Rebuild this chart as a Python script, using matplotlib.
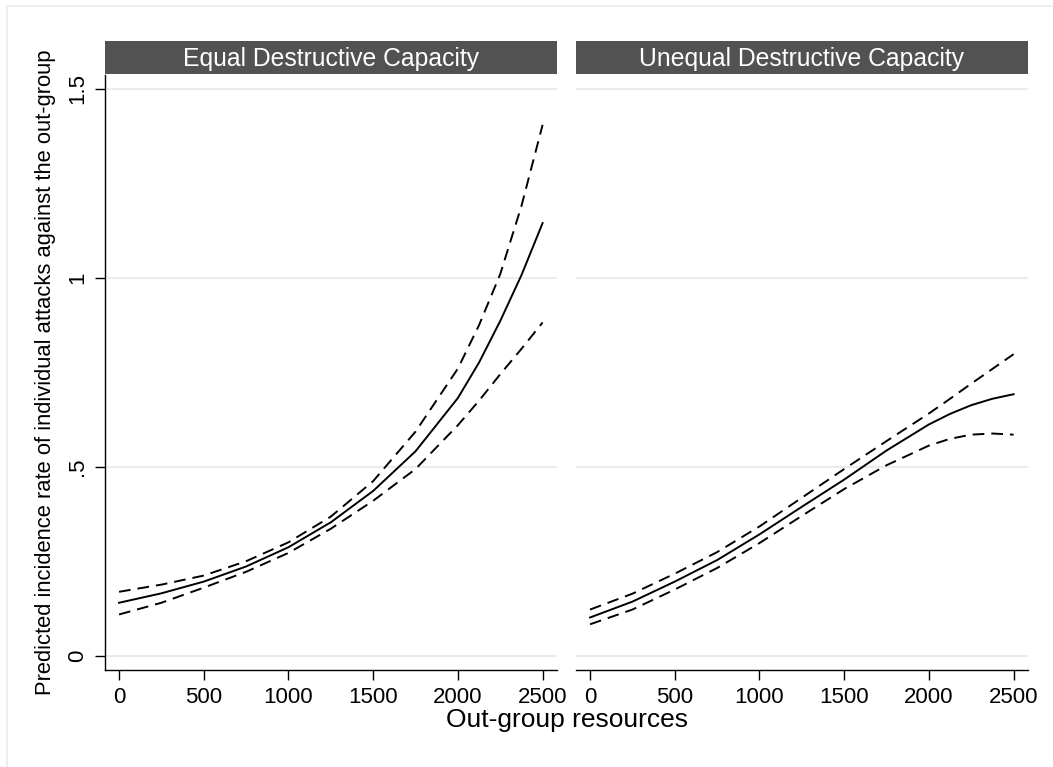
import matplotlib
matplotlib.use('Agg')
import matplotlib.pyplot as plt

plt.rcParams['font.family'] = ['Liberation Sans', 'DejaVu Sans']

# Out-group resources grid
resources = [0, 250, 500, 750, 1000, 1250, 1500, 1750, 2000, 2125, 2250, 2375, 2500]

# Equal destructive capacity: prediction and 95% bounds
eq_pred = [0.140, 0.165, 0.196, 0.236, 0.287, 0.353, 0.436, 0.541, 0.682, 0.776, 0.886, 1.007, 1.145]
eq_hi = [0.169, 0.188, 0.212, 0.250, 0.300, 0.368, 0.462, 0.593, 0.760, 0.875, 1.010, 1.190, 1.405]
eq_lo = [0.109, 0.140, 0.180, 0.222, 0.272, 0.336, 0.410, 0.494, 0.610, 0.675, 0.745, 0.812, 0.882]

# Unequal destructive capacity
uneq_pred = [0.101, 0.143, 0.196, 0.253, 0.321, 0.394, 0.466, 0.543, 0.612, 0.640, 0.663, 0.680, 0.692]
uneq_hi = [0.122, 0.164, 0.217, 0.274, 0.342, 0.418, 0.494, 0.568, 0.641, 0.680, 0.720, 0.759, 0.798]
uneq_lo = [0.083, 0.122, 0.175, 0.232, 0.298, 0.370, 0.441, 0.504, 0.556, 0.574, 0.585, 0.588, 0.585]

panels = ['Equal Destructive Capacity', 'Unequal Destructive Capacity']
series = [(eq_pred, eq_hi, eq_lo), (uneq_pred, uneq_hi, uneq_lo)]

xticks = [0, 500, 1000, 1500, 2000, 2500]
yticks = [0, 0.5, 1, 1.5]
ylabels = ['0', '.5', '1', '1.5']

W, H = 1053, 767
fig = plt.figure(figsize=(W/100, H/100), dpi=100)
fig.patch.set_facecolor('white')

# faint outer frame of the graph region
frame_col = '#e6eef0'
fig.add_artist(plt.Line2D([6.5/W, 6.5/W], [0, 1 - 5.5/H], color=frame_col, lw=1.2))
fig.add_artist(plt.Line2D([6.5/W, 1], [1 - 5.5/H, 1 - 5.5/H], color=frame_col, lw=1.2))

lefts = [105, 576]
axw = 452
top, bottom = 75, 670
dash = (0, (6, 3.6))
lw = 1.4

for i, (name, (pred, hi, lo)) in enumerate(zip(panels, series)):
    ax = fig.add_axes([lefts[i]/W, 1 - bottom/H, axw/W, (bottom - top)/H])
    ax.set_facecolor('white')
    for yv in yticks:
        ax.axhline(yv, color='#e8eef0', lw=1.5, zorder=0)
    ax.plot(resources, pred, color='black', lw=lw)
    ax.plot(resources, hi, color='black', lw=lw, linestyle=dash)
    ax.plot(resources, lo, color='black', lw=lw, linestyle=dash)
    ax.set_xlim(-83, 2585)
    ax.set_ylim(-0.038, 1.537)
    ax.set_xticks(xticks)
    ax.set_xticklabels([str(v) for v in xticks])
    ax.tick_params(axis='x', direction='out', length=7, width=1, labelsize=16, pad=5)
    for s in ['top', 'right']:
        ax.spines[s].set_visible(False)
    ax.spines['bottom'].set_linewidth(1)
    if i == 0:
        ax.set_yticks(yticks)
        ax.set_yticklabels(ylabels, rotation=90, va='center')
        ax.tick_params(axis='y', direction='out', length=7, width=1, labelsize=16, pad=5)
        ax.spines['left'].set_linewidth(1)
        ax.set_ylabel('Predicted incidence rate of individual attacks against the out-group',
                      fontsize=15.8, labelpad=8)
    else:
        ax.spines['left'].set_visible(False)
        ax.set_yticks([])

    # strip header
    hax = fig.add_axes([lefts[i]/W, 1 - 74/H, axw/W, 33/H])
    hax.set_facecolor('#525252')
    for s in hax.spines.values():
        s.set_visible(False)
    hax.set_xticks([])
    hax.set_yticks([])
    hax.text(0.5, 0.45, name, color='white', fontsize=17.8,
             ha='center', va='center', transform=hax.transAxes)

fig.text((105 + 1028) / 2 / W, 1 - 720/H, 'Out-group resources', fontsize=19,
         ha='center', va='center')

fig.savefig('out.png', dpi=100)
